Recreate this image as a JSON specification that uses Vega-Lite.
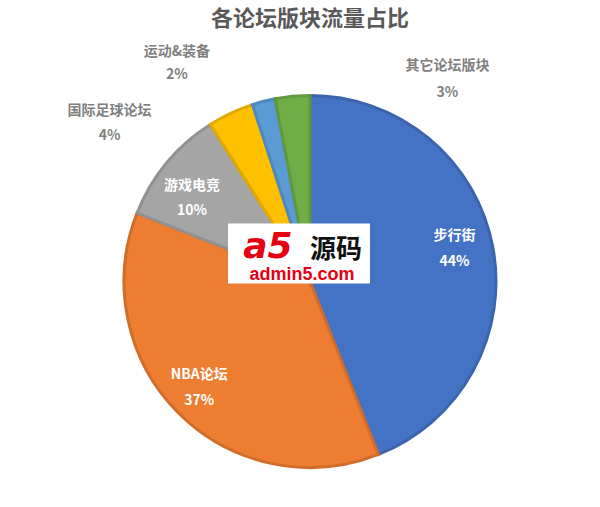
{
  "$schema": "https://vega.github.io/schema/vega-lite/v6.json",
  "autosize": {"type": "fit", "contains": "padding"},
  "width": 600,
  "height": 507,
  "padding": {"left": 20, "top": 19, "right": 0, "bottom": 0},
  "background": "white",
  "title": {"text": "各论坛版块流量占比", "fontSize": 22, "font": "Noto Sans CJK SC", "fontWeight": "bold", "color": "#595959", "anchor": "middle", "offset": 14},
  "config": {"view": {"stroke": null}},
  "data": {"values": [
    {"idx": 1, "cat": "步行街", "pct": 44},
    {"idx": 2, "cat": "NBA论坛", "pct": 37},
    {"idx": 3, "cat": "游戏电竞", "pct": 10},
    {"idx": 4, "cat": "国际足球论坛", "pct": 4},
    {"idx": 5, "cat": "运动&装备", "pct": 2},
    {"idx": 6, "cat": "其它论坛版块", "pct": 3}
  ]},
  "transform": [
    {"calculate": "datum.cat + '\\n' + datum.pct + '%'", "as": "label"},
    {"stack": "pct", "groupby": [], "sort": [{"field": "idx", "order": "ascending"}], "as": ["s0", "s1"]},
    {"calculate": "(datum.s0 + datum.s1) / 2", "as": "mid"}
  ],
  "layer": [
    {
      "mark": {"type": "arc", "outerRadius": 186, "strokeWidth": 3},
      "encoding": {
        "theta": {"field": "s0", "type": "quantitative", "scale": {"domain": [0, 100]}},
        "theta2": {"field": "s1"},
        "color": {"field": "cat", "type": "nominal", "legend": null, "scale": {"domain": ["步行街", "NBA论坛", "游戏电竞", "国际足球论坛", "运动&装备", "其它论坛版块"], "range": ["#4472C4", "#ED7D31", "#A5A5A5", "#FFC000", "#5B9BD5", "#70AD47"]}},
        "stroke": {"field": "cat", "type": "nominal", "legend": null, "scale": {"domain": ["步行街", "NBA论坛", "游戏电竞", "国际足球论坛", "运动&装备", "其它论坛版块"], "range": ["#3C64AC", "#D06D2A", "#919191", "#E0A900", "#4F89BC", "#62983E"]}}
      }
    },
    {
      "transform": [{"filter": "datum.cat === '步行街'"}],
      "mark": {"type": "text", "radius": 148, "dx": -1, "dy": -18, "fontSize": 14, "fontWeight": "bold", "fill": "white", "lineHeight": 26, "lineBreak": "\n", "font": "Noto Sans CJK SC", "baseline": "middle"},
      "encoding": {
        "theta": {"field": "mid", "type": "quantitative"},
        "text": {"field": "label", "type": "nominal"}
      }
    },
    {
      "transform": [{"filter": "datum.cat === 'NBA论坛'"}],
      "mark": {"type": "text", "radius": 148, "dx": -6, "dy": -11, "fontSize": 14, "fontWeight": "bold", "fill": "white", "lineHeight": 26, "lineBreak": "\n", "font": "Noto Sans CJK SC", "baseline": "middle"},
      "encoding": {
        "theta": {"field": "mid", "type": "quantitative"},
        "text": {"field": "label", "type": "nominal"}
      }
    },
    {
      "transform": [{"filter": "datum.cat === '游戏电竞'"}],
      "mark": {"type": "text", "radius": 148, "dx": -4, "dy": -1, "fontSize": 14, "fontWeight": "bold", "fill": "white", "lineHeight": 25, "lineBreak": "\n", "font": "Noto Sans CJK SC", "baseline": "middle"},
      "encoding": {
        "theta": {"field": "mid", "type": "quantitative"},
        "text": {"field": "label", "type": "nominal"}
      }
    },
    {
      "transform": [{"filter": "datum.cat === '国际足球论坛'"}],
      "mark": {"type": "text", "radius": 250, "dx": -94, "dy": 56, "fontSize": 14, "fontWeight": "bold", "fill": "#7F7F7F", "lineHeight": 25, "lineBreak": "\n", "font": "Noto Sans CJK SC", "baseline": "middle"},
      "encoding": {
        "theta": {"field": "mid", "type": "quantitative"},
        "text": {"field": "label", "type": "nominal"}
      }
    },
    {
      "transform": [{"filter": "datum.cat === '运动&装备'"}],
      "mark": {"type": "text", "radius": 250, "dx": -71, "dy": 13, "fontSize": 14, "fontWeight": "bold", "fill": "#7F7F7F", "lineHeight": 23, "lineBreak": "\n", "font": "Noto Sans CJK SC", "baseline": "middle"},
      "encoding": {
        "theta": {"field": "mid", "type": "quantitative"},
        "text": {"field": "label", "type": "nominal"}
      }
    },
    {
      "transform": [{"filter": "datum.cat === '其它论坛版块'"}],
      "mark": {"type": "text", "radius": 250, "dx": 161, "dy": 33, "fontSize": 14, "fontWeight": "bold", "fill": "#7F7F7F", "lineHeight": 27, "lineBreak": "\n", "font": "Noto Sans CJK SC", "baseline": "middle"},
      "encoding": {
        "theta": {"field": "mid", "type": "quantitative"},
        "text": {"field": "label", "type": "nominal"}
      }
    },
    {
      "data": {"values": [{"brand": "admin5.com"}]},
      "mark": {"type": "point", "shape": "M-1,-0.4225H1V0.4225H-1Z", "size": 20164, "filled": true, "fill": "white", "opacity": 1, "strokeWidth": 0, "xOffset": -11, "yOffset": -28},
      "encoding": {}
    },
    {
      "data": {"values": [{"brand": "admin5.com"}]},
      "mark": {"type": "text", "text": "a5", "fontSize": 36, "fontWeight": "bold", "fontStyle": "italic", "font": "DejaVu Sans", "fill": "#E60012", "dx": -42, "dy": -35, "baseline": "middle"},
      "encoding": {}
    },
    {
      "data": {"values": [{"brand": "admin5.com"}]},
      "mark": {"type": "text", "text": "源码", "fontSize": 26, "fontWeight": "bold", "font": "Noto Sans CJK SC", "fill": "#111111", "dx": 26, "dy": -32, "baseline": "middle"},
      "encoding": {}
    },
    {
      "data": {"values": [{"brand": "admin5.com"}]},
      "mark": {"type": "text", "fontSize": 18, "fontWeight": "bold", "font": "Liberation Sans", "fill": "#E60012", "dx": -8, "dy": -7, "baseline": "middle"},
      "encoding": {"text": {"field": "brand", "type": "nominal"}}
    }
  ]
}
